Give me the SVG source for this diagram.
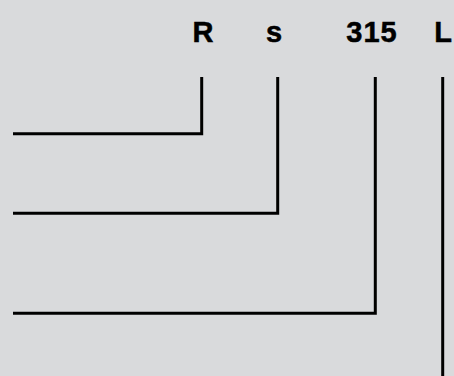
<svg xmlns="http://www.w3.org/2000/svg" width="454" height="376" viewBox="0 0 454 376">
<style>
.lbl{font-family:"Liberation Sans",Arial,sans-serif;font-weight:bold;font-size:29px;fill:#000;stroke:#000;stroke-width:0.5;text-anchor:middle}
.ln{fill:none;stroke:#000;stroke-width:3;stroke-linejoin:miter}
</style>
<rect width="454" height="376" fill="#d9dadc"/>
<g id="label-R"><text class="lbl" x="203" y="42">R</text></g>
<g id="label-s"><text class="lbl" x="274" y="42">s</text></g>
<g id="label-315"><text class="lbl" x="372" y="42" letter-spacing="1">315</text></g>
<g id="label-L"><text class="lbl" x="443" y="42">L</text></g>
<g id="connectors">
<path class="ln" d="M13,133.7 H201.7 V77"/>
<path class="ln" d="M13,213.3 H277.7 V77"/>
<path class="ln" d="M13,313.3 H375.3 V77"/>
<path class="ln" d="M442.7,77 V376"/>
</g>
</svg>
